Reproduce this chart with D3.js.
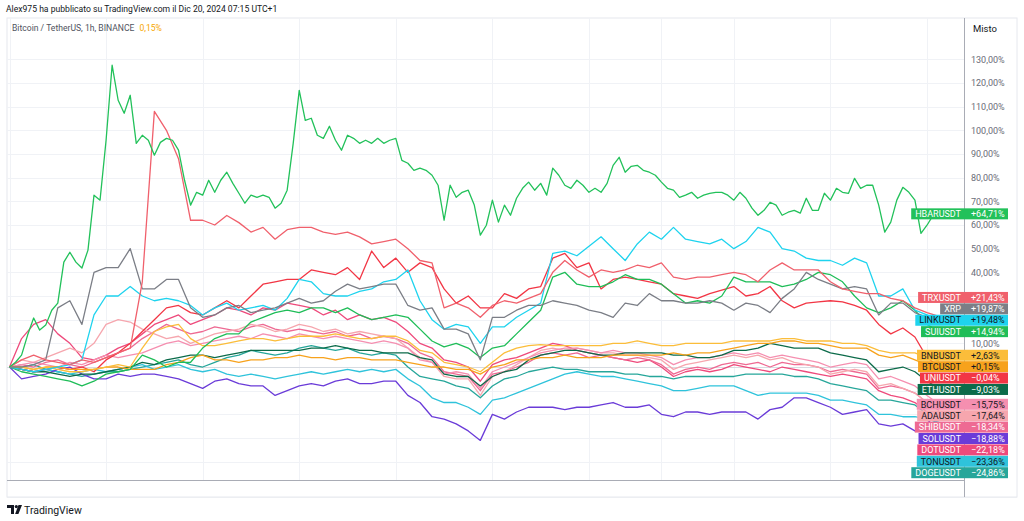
<!DOCTYPE html>
<html><head><meta charset="utf-8">
<script src="https://cdn.jsdelivr.net/npm/d3@7"></script>
<style>html,body{margin:0;padding:0;background:#fff;} svg{display:block;font-family:Roboto,"Liberation Sans",sans-serif;}</style>
</head><body><svg id="c" width="1024" height="521"></svg>
<script>
// ---------------- DATA ----------------
const headerText = "Alex975 ha pubblicato su TradingView.com il Dic 20, 2024 07:15 UTC+1";
const legendText = "Bitcoin / TetherUS, 1h, BINANCE";
const legendValue = "0,15%";
const axisTitle = "Misto";
const xTickLabels = ["Dic","3","5","7","9","11","13","12:00","16","18","20"];
const xTickHours  = [0,48,96,144,192,240,288,324,360,408,456];
const yTicks = [-40,-30,-20,-10,0,10,20,30,40,50,60,70,80,90,100,110,120,130];
const lastHour = 462; // Dec 20, 06:00

// % change vs. first bar (HBAR sampled every 3h, others every 6h)
const hbar = [0,2,5,13.5,20.7,15.6,17.7,24,27,44.3,48.5,44.3,41.8,49.4,72.6,70.5,95.8,127.5,112.7,107.2,114.8,94.5,97.9,95.8,89.5,94.9,96.6,95.8,91.6,78.9,68.4,73.8,72.6,78.9,73.8,78.9,82.3,77.6,73.4,69.2,72.6,71.7,72.6,71.7,67.1,69.2,74.7,94.5,116.9,104.2,105.1,97.9,96.6,101.7,95.8,91.6,97.9,96.6,94.5,95.8,94.5,96.6,94.5,95.8,96.6,87.3,86.1,83.1,84,83.1,81,76.8,62,76.8,71.7,73.8,74.7,68.4,55.7,59.9,70.5,61.2,68.4,64.1,71.3,75.5,78.1,74.7,77.6,72.6,84,81,76.8,75.5,78.9,76.8,73.8,75.5,73.8,77.6,85.2,88.6,82.3,84.8,85.2,83.1,82.3,81,78.1,75.5,74.7,71.7,72.6,73.8,71.3,72.6,73.4,73.8,73.8,72.6,70.5,73.8,71.3,67.1,64.1,66.2,69.6,68.4,64.1,65.4,66.2,65,71.3,66.2,66.2,73.4,70.5,75.5,73.8,73.4,79.7,75.5,76.8,76.8,68.4,57,61.2,70.5,75.9,73.8,70.5,56.5,59.9,64.1,64.71];
const trx  = [0,3,5,3,2,1,3,2,4,6,8,36,108,100,88,62,62,60,64,61,57,59,54,58,59,59,57,56,57,55,52,53,54,50,45,44,25,27,25,21,26,28,27,29,31,40,45,41,38,41,40,41,43,42,44,38,37,38,38,39,40,39,36,41,44,41,41,41,36,33,32,31,31,29,28,25,23,21.43];
const xrp  = [0,0,1,3,25,28,18,40,42,42,50,33,33,37,37,25,21,22,25,26,23,24,25,27,29,27,28,32,35,33,34,35,35,26,24,25,16,16,14,3,21,21,24,26,26,28,27,26,24,23,21,27,26,31,28,28,27,27,28,27,24,27,26,23,29,33,40,37,35,33,34,33,22,27,27,23,21,19.87];
const link = [0,-1,-2,-1,0,1,3,22,30,30,34,30,28,29,28,26,22,25,27,24,25,26,24,29,37,36,31,30,30,32,33,36,37,41,28,20,16,18,17,10,17,17,21,24,27,48,49,47,51,55,50,45,52,57,54,59,54,53,52,54,50,53,59,57,50,49,46,45,45,43,46,44,30,30,33,24,22,19.48];
const sui  = [0,-2,-3,-4,-5,-6,-8,-6,-3,-2,-1,5,3,0,2,2,8,12,14,14,19,21,23,24,23,25,25,23,25,22,20,21,22,21,16,11,8.5,10,8,4,8,9,14,19,24,38,40,35,34,34,36,39,37,37,35,31,27,28,27,30,38,36,36,36,34,35,37,40,39,36,30,25,23,25,28,24,18,14.94];
const bnb  = [0,0,-1,0,-1,-2,-2,-1,0,1,0,8,15,17,18,12,9,9,10,11,12,12,11,12,13,13,13,14,13,12,12,13,13,11,7,6,2,1,0,-2,2,6,8,9,9.5,9,9,9,9,9,10,10,11,10,9,9,10,10,10,10,11,11,11,11,12,12,11,11,11,10,10,9,7,6,6,6,4,2.63];
const btc  = [0,0,-1,0,0,-1,-1,-1,0,0,-1,-1,-1,1,2,4,5,3,3,2,3,3,4,4,5,4,4,3,4,4,3,3,3,2,1,0,0,-1,-1,-3,0,1,3,3,4,4,5,4,4,4,5,5,5,5,5,6,5,6,6,7,8,9,10,10,11,11,10,10,9,8,8,8,5,4,5,3,1,0.15];
const uni  = [0,-1,-2,-1,0,-1,0,-2,3,6,10,15,20,25,26,23,22,25,28,25,30,35,36,37,37,41,40,39,42,37,49,42,46,40,44,42,33,27,30,25,25,31,29,33,34,46,48,42,44,33,37,38,37,36,35,31,30,29,31,32.5,34,30,31,34,28,25,27,27.5,28,27.5,26,24,18,14,16.5,12.7,4,-0.04];
const eth  = [0,-1,-2,-2,-3,-4,-3,-3,-2,-1,0,2,1,3,4,5,5,4,5,6,7,7,7,7,7,8,8,9,8,7,7,6,6,6,4,3,-3,-4,-4,-8,-4,-2,-1,3,5,6,7,7,6,5,5,6,6,6,6,5,5,4,4,5,7,7,8,10,9,8,8,8,6,5,4,3,-2,-1,0,-2,-6,-9.03];
const bch  = [0,1,2,1,0,2,1,3,5,4,5,6,8,10,11,9,10,11,12,13,12,14,13,12,14,13,12,13,12,11,10,11,10,8,3,2,-3,-2,-3,-9,-2,0,2,4,6,7,8,8,7,6,7,6,6,5,4,1,3,4,4,5,6,5,6,4,5,4,3,2,0,1,2,1,-5,-4,-6,-8,-12,-15.75];
const ada  = [0,3,2,4,6,8,6,10,18,20,19,16,14,12,13,10,12,14,15,16,18,17,15,16,18,17,15,16,14,15,14,13,12,8,4,2,-4,-5,-5,-12,-4,-2,1,4,7,8,7,8,7,6,6,5,5,4,3,-1,1,2,3,4,5,4,5,3,4,2,1,0,-3,-2,-1,-2,-8,-7,-9,-11,-15,-17.64];
const shib = [0,1,0,2,3,1,0,2,4,6,8,12,15,18,16,14,15,17,16,15,17,18,16,15,16,15,14,15,13,14,12,13,12,10,6,4,-2,-3,-4,-10,-3,-2,0,2,5,6,5,6,4,5,4,3,4,3,1,-3,-1,0,-1,1,2,1,2,0,2,1,1,0,-2,-1,-2,-3,-9,-8,-9,-11,-15,-18.34];
const sol  = [0,-5,-4,-3,-1,0,-3,-5,-5,-3,-4,-3,-3,-4,-5,-7,-9,-6,-5,-7,-8,-8,-12,-10,-8,-7,-8,-6,-5,-7,-7,-6,-6,-12,-15,-21,-22,-24,-27,-31,-20,-22,-19,-17,-17,-17,-18,-17,-17,-16,-15,-17,-17,-16,-20,-21,-19,-19,-20,-19,-19,-19,-22,-18,-17,-13,-13,-15,-17,-20,-19,-18,-24,-25,-24,-27,-24,-18.88];
const dot  = [0,12,18,20,14,10,4,3,5,8,10,14,18,20,22,18,20,22,25,24,22,25,24,27,26,25,22,24,20,22,20,21,19,15,10,8,3,2,0,-6,1,3,4,6,8,10,9,7,6,5,4,3,2,3,0,-4,-2,-1,-2,-1,1,0,-1,-2,0,-1,-2,-3,-4,-3,-4,-5,-10,-12,-13,-15,-19,-22.18];
const ton  = [0,-1,-2,-1,-2,-3,-2,-1,-2,-1,0,1,-1,0,1,-1,-2,-1,-3,-4,-3,-4,-5,-4,-3,-2,-3,-2,-1,-2,-1,-2,-1,-5,-8,-13,-15,-15,-17,-20,-14,-13,-11,-9,-7,-5,-3,-2,-3,-4,-4,-5,-6,-7,-8,-10,-10,-9,-8,-8,-8,-10,-12,-11,-11,-11,-11,-12,-14,-14,-15,-16,-20,-20,-21,-21,-22,-23.36];
const doge = [0,0,1,-1,-2,-3,-4,-3,-2,-2,-1,0,1,2,3,1,0,2,4,5,7,6,5,6,8,9,8,7,8,6,5,6,5,0,-4,-5,-6,-8,-9,-13,-8,-5,-4,-2,-1,0,-1,-1,-2,-2,-2,-3,-3,-4,-4,-5,-4,-4,-4,-4,-4,-3,-3,-3,-3,-4,-4,-5,-7,-8,-9,-10,-14,-14,-15,-16,-20,-24.86];

const seriesNames  = ["HBARUSDT","TRXUSDT","XRP","LINKUSDT","SUIUSDT","BNBUSDT","BTCUSDT","UNIUSDT","ETHUSDT","BCHUSDT","ADAUSDT","SHIBUSDT","SOLUSDT","DOTUSDT","TONUSDT","DOGEUSDT"];
const seriesValues = [hbar,trx,xrp,link,sui,bnb,btc,uni,eth,bch,ada,shib,sol,dot,ton,doge];
const seriesColors = ["#22c15a","#f0606c","#7b7e86","#1ed3ee","#1fbd58","#fbbd3a","#f7a21c","#f23645","#0c6b4a","#f58fb0","#f6a6ae","#ee6a93","#6a3bd8","#ee4a7c","#2fc3db","#26a69a"];
const labelTextColors = ["#fff","#fff","#fff","#131722","#fff","#131722","#131722","#fff","#fff","#131722","#131722","#fff","#fff","#fff","#131722","#fff"];
const mainSeries = "BTCUSDT";

// ---------------- LAYOUT ----------------
const svg = d3.select("#c");
const W = 1024, H = 521;
const plot = {left:7, right:964, top:18, bottom:480};
const x = d3.scaleLinear().domain([0, 456]).range([9.5, 927]);
const y = d3.scaleLinear().domain([-40, 130]).range([461.7, 59.3]);

const it = d3.formatLocale({decimal:",", thousands:".", grouping:[3], currency:["€",""], minus:"\u2212"});
const fAxis = it.format(".2f");
const fVal = it.format("+.2f");

svg.append("rect").attr("width",W).attr("height",H).attr("fill","#fff");

// header
svg.append("text").attr("x",6).attr("y",12).attr("font-size",8.6).attr("fill","#131722").text(headerText);

// frame
svg.append("rect").attr("x",7).attr("y",18).attr("width",1010).attr("height",479)
  .attr("fill","none").attr("stroke","#e6e8ee").attr("stroke-width",1);

// grid
const grid = svg.append("g");
grid.selectAll("line.h").data(yTicks).join("line")
  .attr("x1",plot.left).attr("x2",plot.right)
  .attr("y1",d=>Math.round(y(d))+0.5).attr("y2",d=>Math.round(y(d))+0.5)
  .attr("stroke","#f0f2f6");
grid.selectAll("line.v").data(xTickHours).join("line")
  .attr("x1",d=>Math.round(x(d))+0.5).attr("x2",d=>Math.round(x(d))+0.5)
  .attr("y1",plot.top).attr("y2",plot.bottom)
  .attr("stroke","#f0f2f6");

// baseline 0%
svg.append("line").attr("x1",plot.left).attr("x2",plot.right)
  .attr("y1",Math.round(y(0))+0.5).attr("y2",Math.round(y(0))+0.5)
  .attr("stroke","#d1d4dc").attr("stroke-width",0.8);

// clip
svg.append("clipPath").attr("id","pc").append("rect")
  .attr("x",plot.left).attr("y",plot.top).attr("width",plot.right-plot.left).attr("height",plot.bottom-plot.top);

// legend
const lg = svg.append("text").attr("x",12).attr("y",31).attr("font-size",8.6);
lg.append("tspan").attr("fill","#50535e").text(legendText);
lg.append("tspan").attr("dx",5).attr("fill","#f7a600").text(legendValue);

// lines
const line = d3.line().x(d=>x(d.h)).y(d=>y(d.v));
const lineG = svg.append("g").attr("clip-path","url(#pc)");
const order = d3.range(seriesNames.length).reverse();
order.forEach(i=>{
  const arr = seriesValues[i];
  const step = lastHour/(arr.length-1);
  const pts = arr.map((v,k)=>({h:k*step, v}));
  lineG.append("path").datum(pts).attr("d",line)
    .attr("fill","none").attr("stroke",seriesColors[i]).attr("stroke-width",1.3)
    .attr("stroke-linejoin","round");
});

// axes lines
svg.append("line").attr("x1",plot.left).attr("x2",plot.right).attr("y1",480.5).attr("y2",480.5).attr("stroke","#a9acb5");
svg.append("line").attr("x1",964.5).attr("x2",964.5).attr("y1",plot.top).attr("y2",497).attr("stroke","#a9acb5");
svg.append("line").attr("x1",plot.left).attr("x2",1017).attr("y1",497.5).attr("y2",497.5).attr("stroke","#eceef2");

// x axis labels
svg.append("clipPath").attr("id","xc").append("rect").attr("x",6).attr("y",481).attr("width",958).attr("height",16);
const xAxis = d3.axisBottom(x).tickValues(xTickHours).tickFormat((d,i)=>xTickLabels[i]).tickSize(0).tickPadding(0);
const xg = svg.append("g").attr("transform","translate(0,486)").attr("clip-path","url(#xc)").call(xAxis);
xg.select(".domain").remove();
xg.selectAll("text").attr("font-size",9).attr("fill","#6a6d78").attr("font-family","Roboto,sans-serif").attr("dy","0.71em");

// value labels positions (stacking around main series)
const finals = seriesValues.map(a=>a[a.length-1]);
const idx = d3.range(finals.length).sort((a,b)=>finals[b]-finals[a]);
const gap = 11.4, bh = 11;
const ly = {};
const anchorPos = idx.indexOf(seriesNames.indexOf(mainSeries));
ly[idx[anchorPos]] = y(finals[idx[anchorPos]]);
for (let k=anchorPos-1;k>=0;k--){ const i=idx[k]; ly[i]=Math.min(y(finals[i]), ly[idx[k+1]]-gap); }
for (let k=anchorPos+1;k<idx.length;k++){ const i=idx[k]; ly[i]=Math.max(y(finals[i]), ly[idx[k-1]]+gap); }

// y axis labels (hidden where value labels sit)
svg.append("text").attr("x",973).attr("y",32).attr("font-size",9.5).attr("fill","#131722").text(axisTitle);
const labelYs = Object.values(ly);
const yAxis = d3.axisRight(y).tickValues(yTicks.filter(t=>y(t)>plot.top+30 && labelYs.every(l=>Math.abs(l-y(t))>=10)))
  .tickFormat(d=>fAxis(d)+"%").tickSize(0).tickPadding(0);
const yg = svg.append("g").attr("transform","translate(971,0)").call(yAxis);
yg.select(".domain").remove();
yg.selectAll("text").attr("font-size",9).attr("fill","#6a6d78").attr("font-family","Roboto,sans-serif");

// value labels
const lab = svg.append("g");
idx.forEach(i=>{
  const cy = ly[i];
  const g = lab.append("g");
  const nameRect = g.append("rect");
  const t = g.append("text").attr("x",961).attr("y",cy).attr("dy","0.36em").attr("text-anchor","end")
    .attr("font-size",9).attr("fill",labelTextColors[i]).text(seriesNames[i]);
  const tw = t.node().getComputedTextLength();
  nameRect.attr("x",961-tw-4).attr("y",cy-bh/2).attr("width",964-(961-tw-4)).attr("height",bh).attr("fill",seriesColors[i]);
  g.append("rect").attr("x",964).attr("y",cy-bh/2).attr("width",44).attr("height",bh).attr("fill",seriesColors[i]);
  g.append("text").attr("x",971).attr("y",cy).attr("dy","0.36em").attr("font-size",9)
    .attr("fill",labelTextColors[i]).text(fVal(finals[i]).replace("-","\u2212")+"%");
});

// TradingView logo
const logo = svg.append("g").attr("fill","#131722");
logo.append("path").attr("d","M7,505 h7 v9 h-3 v-6 h-4 z");
logo.append("circle").attr("cx",16.3).attr("cy",506.6).attr("r",1.6);
logo.append("path").attr("d","M18.5,505 h3.5 l-3.6,9 h-3.3 z");
svg.append("text").attr("x",24).attr("y",514).attr("font-size",10.5).attr("fill","#131722").text("TradingView");
</script></body></html>
